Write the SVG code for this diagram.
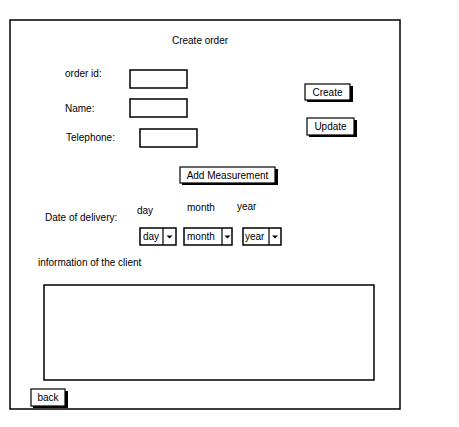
<svg xmlns="http://www.w3.org/2000/svg" width="459" height="427" viewBox="0 0 459 427">
<style>
text{font-family:"Liberation Sans",Arial,sans-serif;font-size:10px;fill:#000}
.box{fill:#fff;stroke:#000;stroke-width:1.5}
.btn{fill:#fff;stroke:#000;stroke-width:1.2}
.sh{fill:#000}
.c{text-anchor:middle}
</style>
<rect width="459" height="427" fill="#fff"/>
<g id="frame"><rect x="10" y="20" width="390" height="389" fill="#fff" stroke="#000" stroke-width="1.5"/></g>
<g id="title"><text x="200" y="44" class="c">Create order</text></g>
<g id="orderid"><text x="65" y="77">order id:</text><rect class="box" x="130" y="70" width="57" height="18"/></g>
<g id="name"><text x="65" y="112">Name:</text><rect class="box" x="130" y="99" width="57" height="18"/></g>
<g id="telephone"><text x="66" y="141">Telephone:</text><rect class="box" x="140" y="129" width="57" height="18"/></g>
<g id="create"><rect class="sh" x="307" y="86" width="46" height="16"/><rect class="btn" x="305" y="84" width="45" height="16"/><text x="327.5" y="95.5" class="c">Create</text></g>
<g id="update"><rect class="sh" x="309" y="120" width="48" height="17"/><rect class="btn" x="307" y="118" width="47" height="17"/><text x="330.5" y="130" class="c">Update</text></g>
<g id="addmeasurement"><rect class="sh" x="182" y="169" width="96" height="16"/><rect class="btn" x="180" y="167" width="95" height="16"/><text x="227.5" y="178.5" class="c">Add Measurement</text></g>
<g id="delivery"><text x="45" y="221">Date of delivery:</text>
<text x="137" y="214">day</text><text x="187" y="211">month</text><text x="237" y="210">year</text></g>
<g id="dayselect"><rect class="box" x="140" y="228" width="36" height="17"/><line x1="163" y1="228" x2="163" y2="245" stroke="#000" stroke-width="1.2"/><text x="143" y="240">day</text><path d="M166.5 235.5h6l-3 3z"/></g>
<g id="monthselect"><rect class="box" x="184" y="228" width="48" height="17"/><line x1="222" y1="228" x2="222" y2="245" stroke="#000" stroke-width="1.2"/><text x="187" y="240">month</text><path d="M224.5 235.5h6l-3 3z"/></g>
<g id="yearselect"><rect class="box" x="243" y="228" width="38" height="17"/><line x1="269" y1="228" x2="269" y2="245" stroke="#000" stroke-width="1.2"/><text x="245" y="240">year</text><path d="M272 235.5h6l-3 3z"/></g>
<g id="info"><text x="38" y="266">information of the client</text><rect class="box" x="44" y="285" width="330" height="95"/></g>
<g id="back"><rect class="sh" x="33" y="391" width="35" height="17"/><rect class="btn" x="31" y="389" width="34" height="17"/><text x="48" y="400.5" class="c">back</text></g>
<g id="connectors"/>
</svg>
